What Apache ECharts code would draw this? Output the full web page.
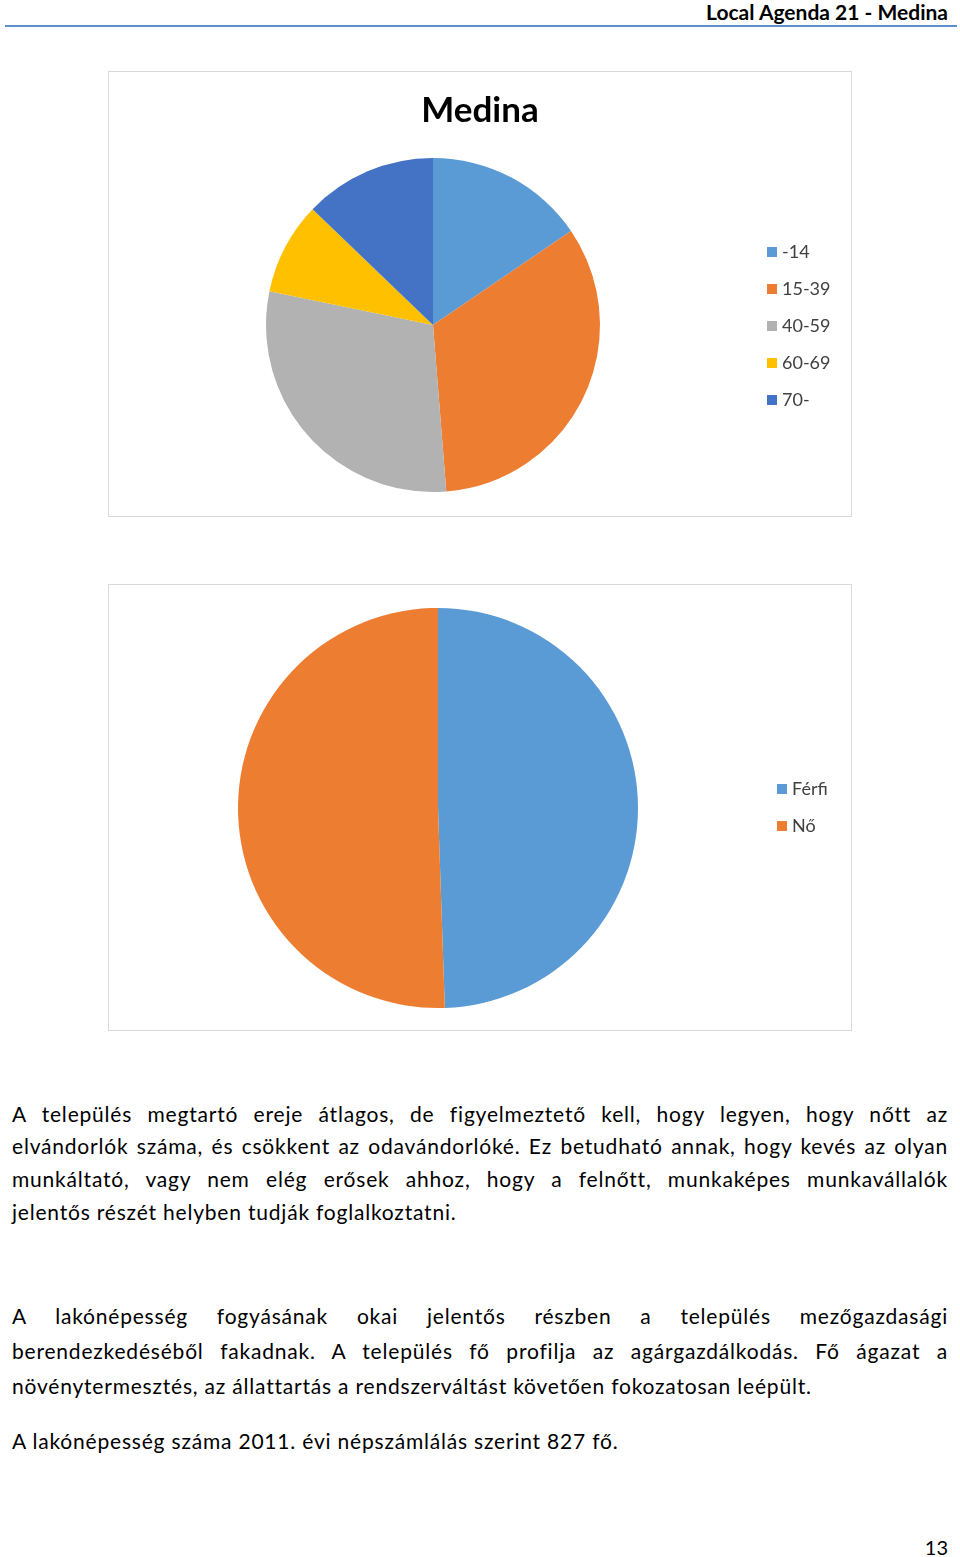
<!DOCTYPE html>
<html>
<head>
<meta charset="utf-8">
<script src="https://cdn.jsdelivr.net/npm/echarts@6/dist/echarts.min.js"></script>
<style>
  html, body { margin:0; padding:0; background:#fff; }
  body { width:960px; height:1557px; position:relative; overflow:hidden; font-family: Lato, "Open Sans", sans-serif; color:#000; }
  .hdr { position:absolute; right:12px; top:0px; font-size:21px; font-weight:bold; line-height:24px; }
  .rule { position:absolute; left:5px; width:952px; top:25px; height:2px; background:#5b8fc7; }
  .box { position:absolute; left:108px; width:742px; border:1px solid #d9d9d9; box-sizing:content-box; }
  .ln { position:absolute; left:12px; width:936px; font-size:21px; letter-spacing:0.8px; line-height:28px; height:28px; white-space:nowrap; text-align:justify; text-align-last:justify; }
  .ln.last { text-align-last:left; }
  .pg { position:absolute; right:12px; top:1535px; font-size:20px; line-height:24px; }
</style>
</head>
<body>
<div class="hdr">Local Agenda 21 - Medina</div>
<div class="rule"></div>
<div id="c1" class="box" style="top:71px;height:444px;"></div>
<div id="c2" class="box" style="top:584px;height:445px;"></div>
<div id="text"></div>
<div class="pg">13</div>
<script>
// ---- data ----
const chartTitle = 'Medina';
const ageCategories = ['-14', '15-39', '40-59', '60-69', '70-'];
const ageValues = [128, 275, 244, 74, 106];
const ageColors = ['#5b9bd5', '#ed7d31', '#b2b2b2', '#ffc000', '#4472c4'];
const sexCategories = ['Férfi', 'Nő'];
const sexValues = [409, 418];
const sexColors = ['#5b9bd5', '#ed7d31'];

const headerText = 'Local Agenda 21 - Medina';
const paragraphLines = [
  ['A település megtartó ereje átlagos, de figyelmeztető kell,  hogy legyen, hogy nőtt az', 1114, false],
  ['elvándorlók száma, és csökkent az odavándorlóké. Ez betudható annak, hogy kevés az olyan', 1146, false],
  ['munkáltató, vagy nem elég erősek ahhoz, hogy a felnőtt, munkaképes munkavállalók', 1179, false],
  ['jelentős részét helyben tudják foglalkoztatni.', 1212, true],
  ['A lakónépesség fogyásának okai jelentős részben a település mezőgazdasági', 1316, false],
  ['berendezkedéséből fakadnak.  A település fő profilja az agárgazdálkodás. Fő ágazat a', 1351, false],
  ['növénytermesztés, az állattartás a rendszerváltást követően fokozatosan leépült.', 1386, true],
  ['A lakónépesség száma 2011. évi népszámlálás szerint 827 fő.', 1441, true]
];

// ---- text ----
const t = document.getElementById('text');
paragraphLines.forEach(([s, y, last]) => {
  const d = document.createElement('div');
  d.className = 'ln' + (last ? ' last' : '');
  d.style.top = (y - 14) + 'px';
  d.textContent = s;
  t.appendChild(d);
});

const legendText = { fontSize: 18, color: '#404040', fontFamily: 'Lato, "Open Sans", sans-serif', lineHeight: 18 };

function pieData(cats, vals, cols) {
  return cats.map((c, i) => ({ name: c, value: vals[i], itemStyle: { color: cols[i] } }));
}

const c1 = echarts.init(document.getElementById('c1'));
c1.setOption({
  animation: false,
  title: { text: chartTitle, left: 'center', top: 21, padding: 0,
    textStyle: { fontSize: 35, fontWeight: 'bold', color: '#000', fontFamily: 'Lato, "Open Sans", sans-serif' } },
  legend: { orient: 'vertical', left: 653, top: 166, itemWidth: 10, itemHeight: 10, itemGap: 19,
    icon: 'rect', textStyle: legendText, data: ageCategories, selectedMode: false },
  series: [{
    type: 'pie', center: [324, 253], radius: 167, startAngle: 90, clockwise: true,
    label: { show: false }, labelLine: { show: false }, silent: true,
    itemStyle: { borderWidth: 0 },
    data: pieData(ageCategories, ageValues, ageColors)
  }]
});

const c2 = echarts.init(document.getElementById('c2'));
c2.setOption({
  animation: false,
  legend: { orient: 'vertical', left: 663, top: 190, itemWidth: 10, itemHeight: 10, itemGap: 19,
    icon: 'rect', textStyle: legendText, data: sexCategories, selectedMode: false },
  series: [{
    type: 'pie', center: [329, 223], radius: 200, startAngle: 90, clockwise: true,
    label: { show: false }, labelLine: { show: false }, silent: true,
    itemStyle: { borderWidth: 0 },
    data: pieData(sexCategories, sexValues, sexColors)
  }]
});
</script>
</body>
</html>
